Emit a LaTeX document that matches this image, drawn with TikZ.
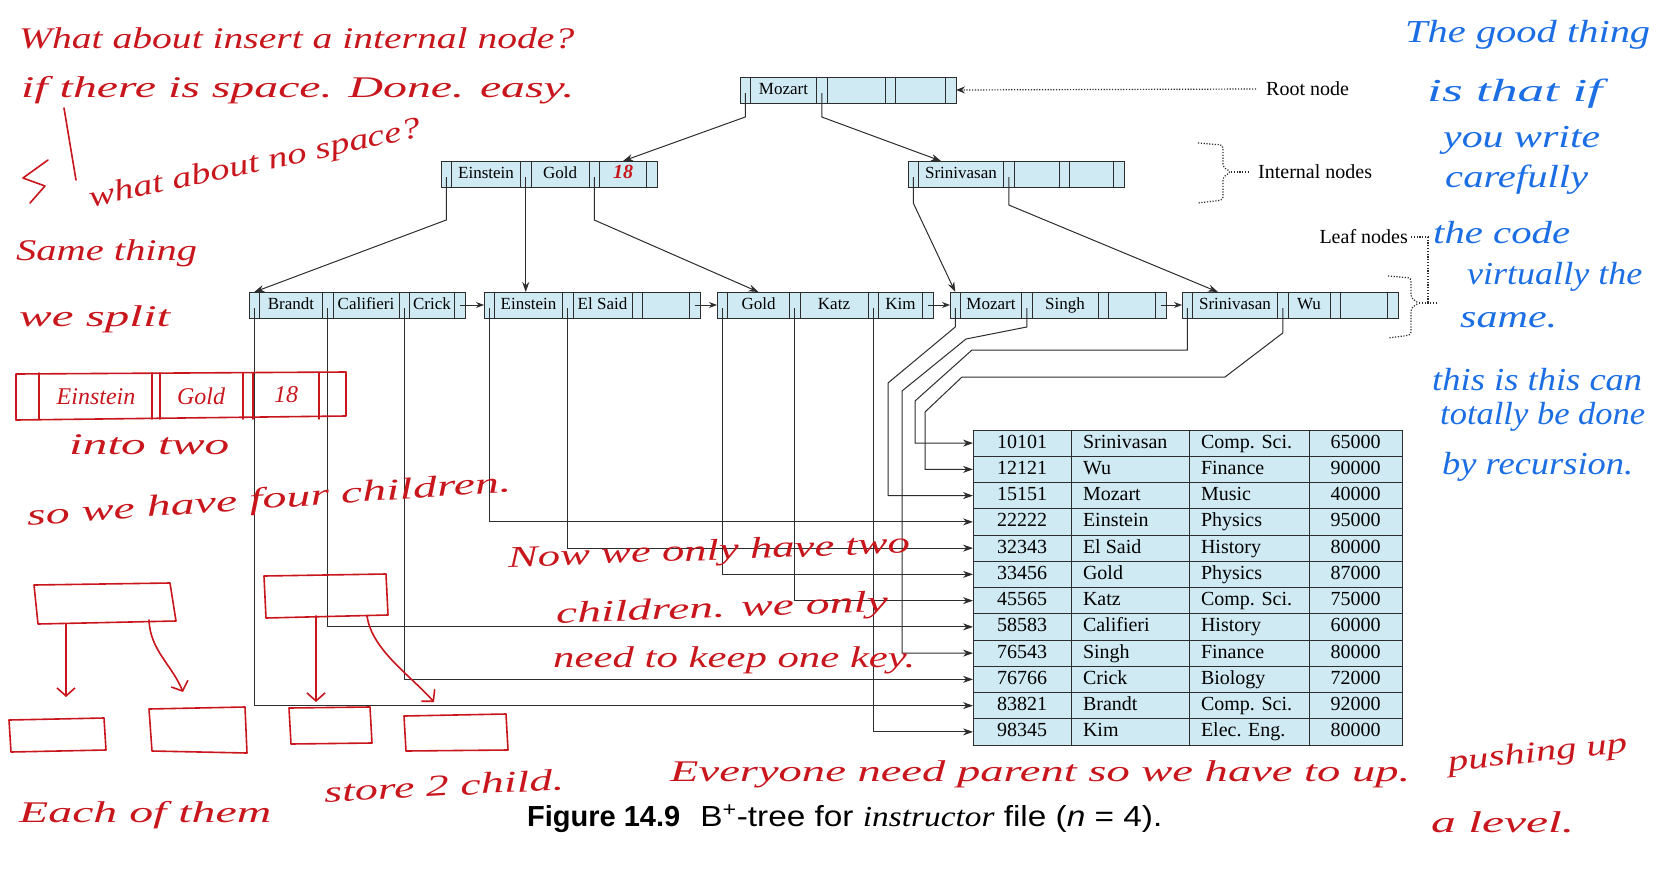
\documentclass[tikz,border=0pt]{standalone}
\usepackage{fontspec}
\setmainfont{Liberation Serif}
\newfontfamily\capfont{Liberation Sans}
\newfontfamily\handfont{Liberation Serif}
\usepackage{graphicx}
\usetikzlibrary{positioning,arrows.meta}

\definecolor{cellblue}{RGB}{208,234,243}
\definecolor{linegray}{RGB}{45,45,45}
\definecolor{inkred}{RGB}{200,22,28}
\definecolor{inkblue}{RGB}{28,110,228}

\tikzset{
  ptrcell/.style={draw=linegray, fill=cellblue, line width=0.9pt, minimum width=10.5pt,
    minimum height=26pt, inner sep=0pt, outer sep=0pt},
  keycell/.style={ptrcell, minimum width=#1, font=\fontsize{17}{17}\selectfont,
    text height=12pt, text depth=3.5pt},
  tcell/.style={draw=linegray, fill=cellblue, line width=0.9pt, minimum height=26.25pt,
    inner sep=0pt, outer sep=0pt, font=\fontsize{20}{20}\selectfont, text height=14pt, text depth=4pt},
  treeline/.style={draw=linegray, line width=1pt, -{Stealth[length=10pt,width=7pt]}},
  ptrline/.style={draw=linegray, line width=1pt, -{Stealth[length=10pt,width=7pt]}},
  nextline/.style={draw=linegray, line width=1pt, -{Stealth[length=8pt,width=6pt]}},
  dotline/.style={draw=linegray, line width=1.2pt, dash pattern=on 1.2pt off 1.6pt},
  lbl/.style={font=\fontsize{20}{20}\selectfont, inner sep=0pt},
  redink/.style={text=inkred, font=\fontsize{30}{30}\handfont\itshape, inner sep=0pt, anchor=west},
  blueink/.style={text=inkblue, font=\fontsize{32}{32}\handfont\itshape, inner sep=0pt, anchor=west},
  sketch/.style={draw=inkred, line width=1.6pt, line cap=round, line join=round}
}

\begin{document}
\begin{tikzpicture}[x=1pt,y=-1pt]
\path[use as bounding box, fill=white] (0,0) rectangle (1668,889);

% root
\node[ptrcell] (rtp1) at (745.25,90) {};
\node[keycell=66pt, right=0pt of rtp1] (rtk1) {Mozart};
\node[ptrcell, right=0pt of rtk1] (rtp2) {};
\node[keycell=58pt, right=0pt of rtp2] (rtk2) {};
\node[ptrcell, right=0pt of rtk2] (rtp3) {};
\node[keycell=50pt, right=0pt of rtp3] (rtk3) {};
\node[ptrcell, right=0pt of rtk3] (rtp4) {};

% internal nodes
\node[ptrcell] (eip1) at (446.25,174) {};
\node[keycell=69pt, right=0pt of eip1] (eik1) {Einstein};
\node[ptrcell, right=0pt of eik1] (eip2) {};
\node[keycell=58pt, right=0pt of eip2] (eik2) {Gold};
\node[ptrcell, right=0pt of eik2] (eip3) {};
\node[keycell=47pt, right=0pt of eip3, text=inkred, font={\fontsize{20}{20}\handfont\bfseries\itshape}] (eik3) {18};
\node[ptrcell, right=0pt of eik3] (eip4) {};

\node[ptrcell] (srp1) at (913.25,174) {};
\node[keycell=85pt, right=0pt of srp1] (srk1) {Srinivasan};
\node[ptrcell, right=0pt of srk1] (srp2) {};
\node[keycell=45pt, right=0pt of srp2] (srk2) {};
\node[ptrcell, right=0pt of srk2] (srp3) {};
\node[keycell=44pt, right=0pt of srp3] (srk3) {};
\node[ptrcell, right=0pt of srk3] (srp4) {};

% leaf nodes
\node[ptrcell] (lap1) at (254.25,305) {};
\node[keycell=63pt, right=0pt of lap1] (lak1) {Brandt};
\node[ptrcell, right=0pt of lak1] (lap2) {};
\node[keycell=66pt, right=0pt of lap2] (lak2) {Califieri};
\node[ptrcell, right=0pt of lak2] (lap3) {};
\node[keycell=45pt, right=0pt of lap3] (lak3) {Crick};
\node[ptrcell, right=0pt of lak3] (lap4) {};

\node[ptrcell] (lbp1) at (489.25,305) {};
\node[keycell=68pt, right=0pt of lbp1] (lbk1) {Einstein};
\node[ptrcell, right=0pt of lbk1] (lbp2) {};
\node[keycell=59pt, right=0pt of lbp2] (lbk2) {El Said};
\node[ptrcell, right=0pt of lbk2] (lbp3) {};
\node[keycell=47pt, right=0pt of lbp3] (lbk3) {};
\node[ptrcell, right=0pt of lbk3] (lbp4) {};

\node[ptrcell] (lcp1) at (722.25,305) {};
\node[keycell=62pt, right=0pt of lcp1] (lck1) {Gold};
\node[ptrcell, right=0pt of lck1] (lcp2) {};
\node[keycell=68pt, right=0pt of lcp2] (lck2) {Katz};
\node[ptrcell, right=0pt of lck2] (lcp3) {};
\node[keycell=44pt, right=0pt of lcp3] (lck3) {Kim};
\node[ptrcell, right=0pt of lck3] (lcp4) {};

\node[ptrcell] (ldp1) at (955.25,305) {};
\node[keycell=61pt, right=0pt of ldp1] (ldk1) {Mozart};
\node[ptrcell, right=0pt of ldk1] (ldp2) {};
\node[keycell=66pt, right=0pt of ldp2] (ldk2) {Singh};
\node[ptrcell, right=0pt of ldk2] (ldp3) {};
\node[keycell=47pt, right=0pt of ldp3] (ldk3) {};
\node[ptrcell, right=0pt of ldk3] (ldp4) {};

\node[ptrcell] (lep1) at (1187.25,305) {};
\node[keycell=85pt, right=0pt of lep1] (lek1) {Srinivasan};
\node[ptrcell, right=0pt of lek1] (lep2) {};
\node[keycell=42pt, right=0pt of lep2] (lek2) {Wu};
\node[ptrcell, right=0pt of lek2] (lep3) {};
\node[keycell=47pt, right=0pt of lep3] (lek3) {};
\node[ptrcell, right=0pt of lek3] (lep4) {};

% instructor file
\foreach \rid/\nm/\dept/\sal [count=\i] in {10101/Srinivasan/Comp. Sci./65000,
    12121/Wu/Finance/90000, 15151/Mozart/Music/40000, 22222/Einstein/Physics/95000,
    32343/El Said/History/80000, 33456/Gold/Physics/87000, 45565/Katz/Comp. Sci./75000,
    58583/Califieri/History/60000, 76543/Singh/Finance/80000, 76766/Crick/Biology/72000,
    83821/Brandt/Comp. Sci./92000, 98345/Kim/Elec. Eng./80000} {
  \node[tcell, minimum width=98pt] (id\i) at (1022,{416.875+26.25*\i}) {\rid};
  \node[tcell, minimum width=118pt, right=0pt of id\i] (nm\i) {\makebox[94pt][l]{\nm}};
  \node[tcell, minimum width=120pt, right=0pt of nm\i] (dp\i) {\makebox[96pt][l]{\dept}};
  \node[tcell, minimum width=93pt, right=0pt of dp\i] (sl\i) {\sal};
}

% tree pointers
\draw[treeline] ([yshift=-3pt]rtp1.center) -- (rtp1 |- 0,117) -- (eik3.north);
\draw[treeline] ([yshift=-3pt]rtp2.center) -- (rtp2 |- 0,117) -- ([xshift=-20pt]srk1.north);
\draw[treeline] ([yshift=-3pt]eip1.center) -- (eip1 |- 0,220) -- (lap1.north);
\draw[treeline] ([yshift=-3pt]eip2.center) -- (eip2 |- lbk1.north);
\draw[treeline] ([yshift=-3pt]eip3.center) -- (eip3 |- 0,220) -- (lck1.north);
\draw[treeline] ([yshift=-3pt]srp1.center) -- (srp1 |- 0,203) -- (ldp1.north);
\draw[treeline] ([yshift=-3pt]srp2.center) -- (srp2 |- 0,205) -- ([xshift=-17pt]lek1.north);

% leaf chain
\draw[nextline] (lap4.center) -- (lbp1.west);
\draw[nextline] (lbp4.center) -- (lcp1.west);
\draw[nextline] (lcp4.center) -- (ldp1.west);
\draw[nextline] (ldp4.center) -- (lep1.west);

% record pointers
\draw[ptrline] ([yshift=-3pt]lep1.center) -- (lep1 |- 0,350) -- (972,350) -- (915,401) |- (id1.west);
\draw[ptrline] ([yshift=-3pt]lep2.center) -- (lep2 |- 0,333) -- (1225,377) -- (962,377) -- (925,412) |- (id2.west);
\draw[ptrline] ([yshift=-3pt]ldp1.center) -- (ldp1 |- 0,327) -- (888,383) |- (id3.west);
\draw[ptrline] ([yshift=-3pt]lbp1.center) |- (id4.west);
\draw[ptrline] ([yshift=-3pt]lbp2.center) |- (id5.west);
\draw[ptrline] ([yshift=-3pt]lcp1.center) |- (id6.west);
\draw[ptrline] ([yshift=-3pt]lcp2.center) |- (id7.west);
\draw[ptrline] ([yshift=-3pt]lap2.center) |- (id8.west);
\draw[ptrline] ([yshift=-3pt]ldp2.center) -- (ldp2 |- 0,327) -- (966,339) -- (902,391) |- (id9.west);
\draw[ptrline] ([yshift=-3pt]lap3.center) |- (id10.west);
\draw[ptrline] ([yshift=-3pt]lap1.center) |- (id11.west);
\draw[ptrline] ([yshift=-3pt]lcp3.center) |- (id12.west);

% labels
\node[lbl, anchor=west] (rootlbl) at (1266,89) {Root node};
\node[lbl, anchor=west] (intlbl) at (1258,172) {Internal nodes};
\node[lbl, anchor=east] (leaflbl) at (1408,237) {Leaf nodes};
\draw[dotline, -{Stealth[length=9pt,width=7pt]}] ([xshift=-10pt]rootlbl.west) -- (rtp4.east);
\draw[dotline, rounded corners=3pt] (1198,143) -- (1223,145) -- (1223,167) -- (1231,172) -- (1223,177) -- (1223,200) -- (1198,203);
\draw[dotline] (1231,172) -- ([xshift=-9pt]intlbl.west);
\draw[dotline, rounded corners=3pt] (1388,276) -- (1411,278) -- (1411,298) -- (1419,303) -- (1411,308) -- (1411,335) -- (1388,338);
\draw[dotline] (1419,303) -- (1437,303);
\draw[dotline] ([xshift=3pt]leaflbl.east) -| (1428,303);

% caption
\node[anchor=base west, inner sep=0pt, font={\fontsize{29}{29}\capfont}] (cap) at (527,826)
  {\bfseries Figure 14.9\hspace{20pt}\mdseries\resizebox{462pt}{\height}{B\textsuperscript{+}-tree for {\rmfamily\itshape instructor} file ({\itshape n} = 4).}};

% red notes
\node[redink] (q1) at (19,38) {\resizebox{555pt}{\height}{What about insert a internal node?}};
\node[redink] (q2) at (21,90) {\resizebox{553pt}{\height}{if there is space. Done. easy.}};
\draw[sketch] (64,108) -- (76,180);
\draw[sketch] (48,160) -- (23,178) -- (45,186) -- (30,203);
\node[redink, rotate=12] (q3) at (90,200) {\resizebox{338pt}{\height}{what about no space?}};
\node[redink] (q4) at (16,253) {\resizebox{181pt}{\height}{Same thing}};
\node[redink] (q5) at (19,319) {\resizebox{151pt}{\height}{we split}};
\draw[sketch] (16,374) -- (346,372) -- (346,416) -- (16,420) -- cycle;
\foreach \xd in {39,152,160,243,253,319} \draw[sketch] (\xd,373) -- (\xd,419);
\node[redink, anchor=center, font={\fontsize{24}{24}\handfont\itshape}] (s1) at (96,397) {Einstein};
\node[redink, anchor=center, font={\fontsize{24}{24}\handfont\itshape}] (s2) at (201,396) {Gold};
\node[redink, anchor=center, font={\fontsize{24}{24}\handfont\itshape}] (s3) at (286,395) {18};
\node[redink] (q6) at (69,445) {\resizebox{160pt}{\height}{into two}};
\node[redink, rotate=4] (q7) at (27,518) {\resizebox{485pt}{\height}{so we have four children.}};
% split sketch
\draw[sketch] (34,585) -- (170,583) -- (176,621) -- (38,624) -- cycle;
\draw[sketch, -{Straight Barb[length=8pt,width=18pt]}] (66,624) -- (66,697);
\draw[sketch, -{Straight Barb[length=8pt,width=18pt]}] (149,620) .. controls (150,650) and (172,665) .. (183,692);
\draw[sketch] (9,720) -- (104,718) -- (106,750) -- (11,752) -- cycle;
\draw[sketch] (149,709) -- (245,707) -- (247,753) -- (152,751) -- cycle;
\draw[sketch] (264,576) -- (386,574) -- (388,615) -- (266,618) -- cycle;
\draw[sketch, -{Straight Barb[length=8pt,width=18pt]}] (316,616) -- (316,702);
\draw[sketch, -{Straight Barb[length=8pt,width=18pt]}] (367,616) .. controls (372,650) and (410,675) .. (434,702);
\draw[sketch] (289,708) -- (370,707) -- (372,743) -- (291,744) -- cycle;
\draw[sketch] (404,716) -- (506,714) -- (508,750) -- (406,751) -- cycle;
\node[redink] (q8) at (19,815) {\resizebox{252pt}{\height}{Each of them}};
\node[redink, rotate=3] (q9) at (324,792) {\resizebox{240pt}{\height}{store 2 child.}};
\node[redink, rotate=2] (q10) at (508,560) {\resizebox{402pt}{\height}{Now we only have two}};
\node[redink, rotate=2] (q11) at (556,616) {\resizebox{332pt}{\height}{children. we only}};
\node[redink] (q12) at (553,660) {\resizebox{362pt}{\height}{need to keep one key.}};
\node[redink] (q13) at (670,774) {\resizebox{740pt}{\height}{Everyone need parent so we have to up.}};
\node[redink, rotate=6] (q14) at (1448,764) {\resizebox{180pt}{\height}{pushing up}};
\node[redink] (q15) at (1431,822) {\resizebox{143pt}{\height}{a level.}};

% blue notes
\node[blueink] (b1) at (1405,35) {\resizebox{245pt}{\height}{The good thing}};
\node[blueink] (b2) at (1427,94) {\resizebox{175pt}{\height}{is that if}};
\node[blueink] (b3) at (1443,140) {\resizebox{157pt}{\height}{you write}};
\node[blueink] (b4) at (1445,180) {\resizebox{143pt}{\height}{carefully}};
\node[blueink] (b5) at (1433,233) {\resizebox{137pt}{\height}{the code}};
\node[blueink] (b6) at (1467,277) {\resizebox{175pt}{\height}{virtually the}};
\node[blueink] (b7) at (1460,320) {\resizebox{97pt}{\height}{same.}};
\node[blueink] (b8) at (1432,380) {\resizebox{210pt}{\height}{this is this can}};
\node[blueink] (b9) at (1440,417) {\resizebox{205pt}{\height}{totally be done}};
\node[blueink] (b10) at (1442,467) {\resizebox{191pt}{\height}{by recursion.}};
\end{tikzpicture}
\end{document}
